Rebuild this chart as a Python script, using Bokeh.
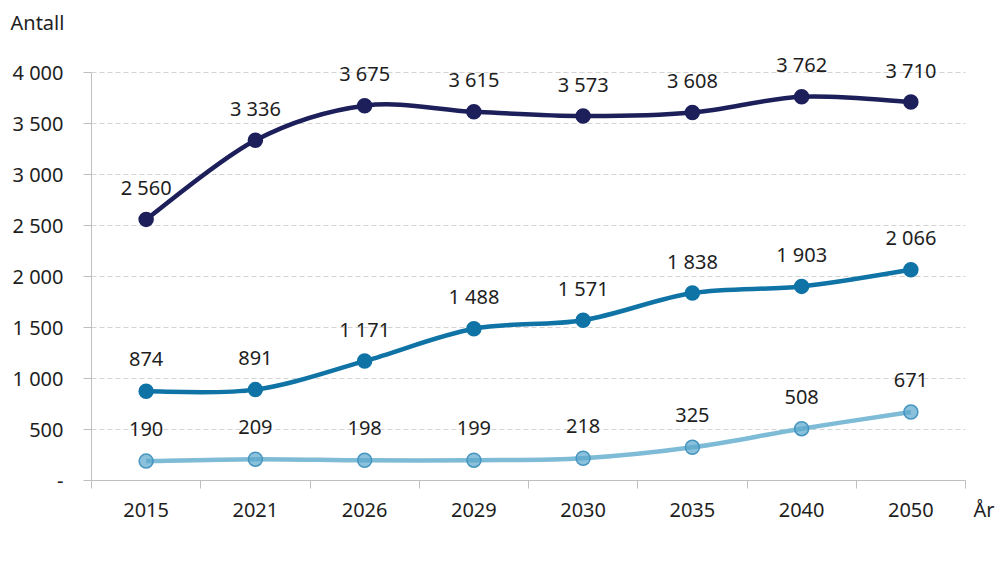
from bokeh.plotting import figure
from bokeh.models import (ColumnDataSource, FixedTicker, LabelSet, Legend,
                          LegendItem, Range1d, LinearAxis, Title)
from bokeh.core.properties import value
from bokeh.embed import file_html
from bokeh.resources import INLINE

years = ["2015", "2021", "2026", "2029", "2030", "2035", "2040", "2050"]
names = ["67-79 år", "80-89 år", "90 år og eldre"]
s_67_79 = [2560, 3336, 3675, 3615, 3573, 3608, 3762, 3710]
s_80_89 = [874, 891, 1171, 1488, 1571, 1838, 1903, 2066]
s_90 = [190, 209, 198, 199, 218, 325, 508, 671]
y_ticks = [0, 500, 1000, 1500, 2000, 2500, 3000, 3500, 4000]
y_title = "Antall"
x_title = "År"

FONT = "Noto Sans"
FS = "20px"
TXT = "#1e1e1e"
AX = "#bfbfbf"

N = len(years)
FRAME_W = 904          # frame extends right so that the "År" label can sit beside the axis
FRAME_H = 444
X_END = N * FRAME_W / 874
Y_END = FRAME_H * 4000 / 408
X_TITLE_POS = N + 0.17

def fmt(v):
    return "-" if v == 0 else f"{v:,}".replace(",", " ")

xs = [i + 0.5 for i in range(N)]

p = figure(width=997, height=579, frame_width=FRAME_W, frame_height=FRAME_H,
           output_backend="svg", toolbar_location=None,
           x_range=Range1d(0, X_END), y_range=Range1d(0, Y_END),
           min_border_left=91, min_border_right=2, min_border_top=36,
           min_border_bottom=0)
p.outline_line_color = None
p.background_fill_color = "white"
p.border_fill_color = "white"

# title "Antall" at the top left
p.title = Title(text=y_title, align="left", offset=-81, standoff=1,
                text_font=FONT, text_font_size=FS, text_color=TXT,
                text_font_style="normal")

# x axis 1: line and boundary ticks
xa = p.xaxis[0]
xa.ticker = FixedTicker(ticks=[], minor_ticks=list(range(N + 1)))
xa.bounds = (0, N)
xa.major_tick_out = 0
xa.major_tick_in = 0
xa.minor_tick_out = 8
xa.minor_tick_in = 0
xa.minor_tick_line_color = AX
xa.axis_line_color = AX
xa.major_label_standoff = 0
xa.major_label_text_font_size = "0px"

# x axis 2: the category labels and "År"
xa2 = LinearAxis(ticker=FixedTicker(ticks=xs + [X_TITLE_POS], minor_ticks=[]),
                 major_label_overrides={x: y for x, y in zip(xs + [X_TITLE_POS], years + [x_title])},
                 axis_line_color=None, major_tick_line_color=None,
                 minor_tick_line_color=None, major_tick_out=0, major_tick_in=0,
                 minor_tick_out=0, minor_tick_in=0,
                 major_label_standoff=7, major_label_text_font=FONT,
                 major_label_text_font_size=FS, major_label_text_color=TXT)
p.add_layout(xa2, "below")

ya = p.yaxis[0]
ya.ticker = FixedTicker(ticks=y_ticks, minor_ticks=[])
ya.major_label_overrides = {t: fmt(t) for t in y_ticks}
ya.bounds = (0, 4000)
ya.major_tick_out = 8
ya.major_tick_in = 0
ya.major_tick_line_color = AX
ya.axis_line_color = AX
ya.major_label_standoff = 20
ya.major_label_text_font = FONT
ya.major_label_text_font_size = FS
ya.major_label_text_color = TXT

p.xgrid.grid_line_color = None
p.ygrid.grid_line_color = "#d3d3d3"
p.ygrid.grid_line_dash = "5 3"
p.ygrid.grid_line_width = 1
p.ygrid.cross_bounds = (0, N)

def bezier_src(xv, yv):
    n = len(xv)
    d = dict(x0=[], y0=[], x1=[], y1=[], cx0=[], cy0=[], cx1=[], cy1=[])
    for i in range(n - 1):
        a = i - 1 if i > 0 else i
        b = i + 2 if i + 2 < n else i + 1
        d["x0"].append(xv[i]); d["y0"].append(yv[i])
        d["x1"].append(xv[i + 1]); d["y1"].append(yv[i + 1])
        d["cx0"].append(xv[i] + (xv[i + 1] - xv[a]) / 6)
        d["cy0"].append(yv[i] + (yv[i + 1] - yv[a]) / 6)
        d["cx1"].append(xv[i + 1] - (xv[b] - xv[i]) / 6)
        d["cy1"].append(yv[i + 1] - (yv[b] - yv[i]) / 6)
    return ColumnDataSource(d)

styles = [
    dict(line="#1c1f5a", fill="#1c1f5a", edge="#1c1f5a", alpha=1.0),
    dict(line="#0f73a6", fill="#0f73a6", edge="#0f73a6", alpha=1.0),
    dict(line="#7dbbd6", fill="#5aa6cc", edge="#4595c0", alpha=0.7),
]

items = []
for name, ser, st in zip(names, [s_67_79, s_80_89, s_90], styles):
    src = ColumnDataSource(dict(x=xs, y=ser, lab=[fmt(v) for v in ser]))
    p.bezier("x0", "y0", "x1", "y1", "cx0", "cy0", "cx1", "cy1",
             source=bezier_src(xs, ser), line_color=st["line"], line_width=4.5)
    dummy = p.line([], [], line_color=st["line"], line_width=4.5)
    sc = p.scatter("x", "y", source=src, size=14, fill_color=st["fill"],
                   line_color=st["edge"], fill_alpha=st["alpha"], line_width=1.5)
    p.add_layout(LabelSet(x="x", y="y", text="lab", source=src, y_offset=32,
                          text_align="center", text_baseline="middle",
                          text_font=value(FONT), text_font_size=value(FS),
                          text_color=TXT))
    items.append(LegendItem(label=name, renderers=[dummy, sc]))

legend = Legend(items=items, orientation="horizontal", location="center",
                glyph_width=55, glyph_height=20, label_height=20,
                label_standoff=3, spacing=31, padding=3, margin=0,
                label_text_font=FONT, label_text_font_size=FS,
                label_text_color=TXT, border_line_color=None,
                background_fill_alpha=0)
p.add_layout(legend, "below")

open("out.html", "w").write(file_html(p, INLINE))
